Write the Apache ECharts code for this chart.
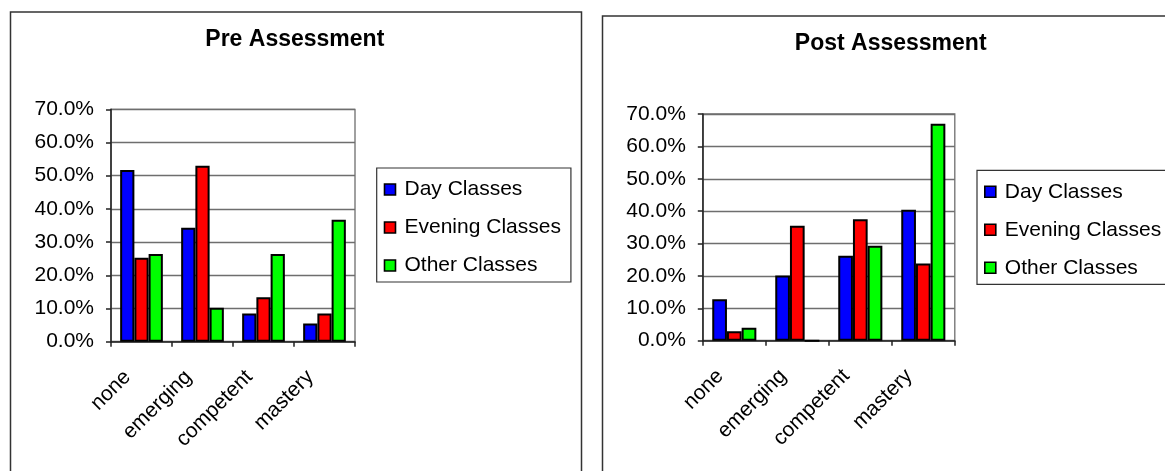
<!DOCTYPE html>
<html>
<head>
<meta charset="utf-8">
<script src="https://cdn.jsdelivr.net/npm/echarts@6/dist/echarts.min.js"></script>
<style>
  html, body { margin: 0; padding: 0; background: #fff; }
  #chart { width: 1165px; height: 471px; }
</style>
</head>
<body>
<div id="chart"></div>
<script>
// ---- data ----
const categories = ['none', 'emerging', 'competent', 'mastery'];
const seriesNames = ['Day Classes', 'Evening Classes', 'Other Classes'];
const preDay = [51.7, 34.3, 8.5, 5.5];
const preEvening = [25.3, 53.0, 13.4, 8.5];
const preOther = [26.4, 10.2, 26.4, 36.7];
const postDay = [12.8, 20.1, 26.2, 40.4];
const postEvening = [2.9, 35.5, 37.5, 23.8];
const postOther = [4.0, 0, 29.3, 67.0];
const yTicks = { min: 0, max: 70, interval: 10 };
const titles = ['Pre Assessment', 'Post Assessment'];

const colors = ['#0000FF', '#FF0000', '#00FF00'];
const FONT = "'Liberation Sans', Arial, sans-serif";

const chart = echarts.init(document.getElementById('chart'), null, { renderer: 'canvas' });

function xAxis(gridIndex) {
  return {
    type: 'category', gridIndex, data: categories,
    axisLine: { show: true, lineStyle: { color: '#222', width: 1.5 } },
    axisTick: { show: true, length: 5, alignWithLabel: false, lineStyle: { color: '#222', width: 1.5 } },
    axisLabel: { interval: 0, rotate: 45, margin: 18, padding: [0, 20, 0, 0],
      fontFamily: FONT, fontSize: 21, color: '#000' },
    splitLine: { show: false }
  };
}
function yAxis(gridIndex) {
  return {
    type: 'value', gridIndex, min: yTicks.min, max: yTicks.max, interval: yTicks.interval,
    axisLine: { show: true, lineStyle: { color: '#222', width: 1.5 } },
    axisTick: { show: true, length: 5, lineStyle: { color: '#222', width: 1.5 } },
    axisLabel: { margin: 17, fontFamily: FONT, fontSize: 21, color: '#000',
      formatter: v => v.toFixed(1) + '%' },
    splitLine: { show: true, lineStyle: { color: '#6e6e6e', width: 1.3 } }
  };
}
function bars(name, data, idx, gi) {
  return {
    name, type: 'bar', data, xAxisIndex: gi, yAxisIndex: gi,
    barGap: '0%', barCategoryGap: '30%',
    itemStyle: { color: colors[idx], borderColor: '#000', borderWidth: 2 },
    emphasis: { disabled: true }, animation: false
  };
}
function legend(left, top) {
  return {
    orient: 'vertical', left, top, data: seriesNames,
    icon: 'rect', itemWidth: 11, itemHeight: 11, itemGap: 17,
    padding: [11, 10, 6, 7],
    borderColor: '#333', borderWidth: 1.2,
    itemStyle: { borderColor: '#000', borderWidth: 1.6 },
    textStyle: { fontFamily: FONT, fontSize: 21, color: '#000', lineHeight: 21, padding: [0, 0, 0, 4] },
    selectedMode: false
  };
}

const option = {
  animation: false,
  backgroundColor: '#fff',
  title: [
    { text: titles[0], left: 294.8, top: 28, textAlign: 'center', padding: 0,
      textStyle: { fontFamily: FONT, fontSize: 23, fontWeight: 'bold', color: '#000' } },
    { text: titles[1], left: 890.7, top: 32, textAlign: 'center', padding: 0,
      textStyle: { fontFamily: FONT, fontSize: 23, fontWeight: 'bold', color: '#000' } }
  ],
  legend: [legend(376.7, 168), legend(977, 170.3)],
  grid: [
    { left: 111, top: 109.3, width: 244, height: 232.4, show: true, borderColor: '#6e6e6e', borderWidth: 1.3,
      containLabel: false, outerBoundsMode: 'none' },
    { left: 702.8, top: 114, width: 252, height: 226.7, show: true, borderColor: '#6e6e6e', borderWidth: 1.3,
      containLabel: false, outerBoundsMode: 'none' }
  ],
  xAxis: [xAxis(0), xAxis(1)],
  yAxis: [yAxis(0), yAxis(1)],
  series: [
    bars(seriesNames[0], preDay, 0, 0),
    bars(seriesNames[1], preEvening, 1, 0),
    bars(seriesNames[2], preOther, 2, 0),
    bars(seriesNames[0], postDay, 0, 1),
    bars(seriesNames[1], postEvening, 1, 1),
    bars(seriesNames[2], postOther, 2, 1)
  ],
  graphic: [
    { type: 'rect', left: 8, top: 9.5, shape: { width: 571, height: 480 }, z: -1,
      style: { fill: 'none', stroke: '#333', lineWidth: 1.5 }, silent: true },
    { type: 'rect', left: 600, top: 13.5, shape: { width: 580, height: 480 }, z: -1,
      style: { fill: 'none', stroke: '#333', lineWidth: 1.5 }, silent: true }
  ]
};
chart.setOption(option);
</script>
</body>
</html>
